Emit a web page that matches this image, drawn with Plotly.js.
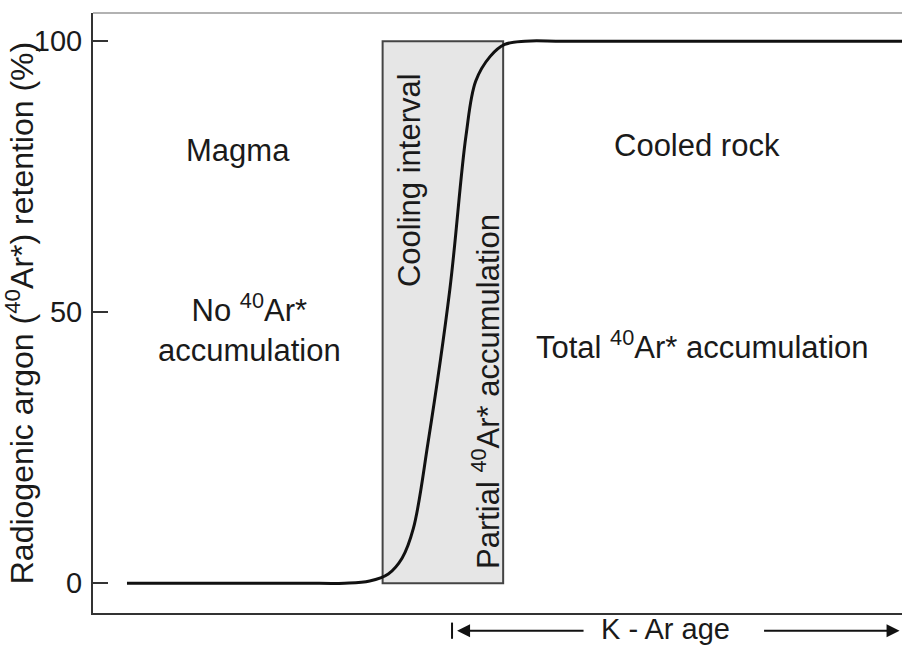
<!DOCTYPE html>
<html>
<head>
<meta charset="utf-8">
<script src="https://cdn.plot.ly/plotly-3.0.1.min.js"></script>
<style>html,body{margin:0;padding:0;background:#fff;}#chart{width:902px;height:645px;}</style>
</head>
<body>
<div id="chart"></div>
<script>
// Time / K-Ar age axis (arbitrary units) and 40Ar* retention (%)
const ageX = [4.2, 16, 26, 31.1, 34.2, 36.5, 38.2, 39.6, 41.4, 44.1, 46.1, 47.3, 49.1, 50.9, 53.4, 58, 70, 85, 100];
const retention = [0, 0, 0, 0, 0.4, 1.7, 4.6, 10.1, 25.8, 54.1, 82.5, 92.6, 97.2, 99.4, 100, 100, 100, 100, 100];
// Cooling interval (x start/end) and its retention span
const coolingInterval = [35.8, 50.7];
const coolingRetention = [0, 100];
const yTickVals = [0, 50, 100];
const yTickText = ['0', '50', '100'];

const fontFam = 'Liberation Sans, Arial, sans-serif';
const txtCol = '#1a1a1a';
const F = 31;

const traces = [{
  x: ageX, y: retention, type: 'scatter', mode: 'lines',
  line: {color: '#111', width: 3, shape: 'spline', smoothing: 1},
  hoverinfo: 'skip', showlegend: false
}];

function ann(text, x, y, opts) {
  return Object.assign({text: text, x: x, y: y, xref: 'x', yref: 'y', showarrow: false,
    font: {family: fontFam, size: F, color: txtCol}, xanchor: 'center', yanchor: 'middle'}, opts || {});
}

const layout = {
  width: 902, height: 645,
  margin: {l: 93, r: 0, t: 13, b: 32},
  paper_bgcolor: '#fff', plot_bgcolor: '#fff',
  showlegend: false,
  xaxis: {range: [0, 100], showgrid: false, zeroline: false, showticklabels: false, ticks: '',
    showline: true, linecolor: '#333', linewidth: 2, mirror: false},
  yaxis: {range: [-5.5, 105.2], showgrid: false, zeroline: false,
    tickvals: yTickVals, ticktext: yTickText, ticks: 'inside', ticklen: 15, tickwidth: 1.5, tickcolor: '#333',
    tickfont: {family: fontFam, size: 29, color: txtCol}, ticklabelstandoff: 3,
    showline: true, linecolor: '#333', linewidth: 2,
    title: {text: 'Radiogenic argon (<sup>40</sup>Ar*) retention (%)', font: {family: fontFam, size: 32, color: txtCol}, standoff: 0}
  },
  shapes: [
    {type: 'rect', xref: 'x', yref: 'y', x0: coolingInterval[0], x1: coolingInterval[1], y0: coolingRetention[0], y1: coolingRetention[1],
     fillcolor: '#e6e6e6', line: {color: '#444', width: 2}, layer: 'below'},
    {type: 'line', xref: 'paper', yref: 'paper', x0: 0, x1: 1, y0: 1, y1: 1, line: {color: '#999', width: 1.5}},
    {type: 'line', xref: 'paper', yref: 'paper', x0: 0.4438, x1: 0.4438, y0: -0.016, y1: -0.043, line: {color: '#111', width: 2}}
  ],
  annotations: [
    ann('Magma', 17.9, 79.9),
    ann('No <sup>40</sup>Ar*<br>accumulation', 19.3, 47.0),
    ann('Cooled rock', 74.7, 80.8),
    ann('Total <sup>40</sup>Ar* accumulation', 75.4, 43.9),
    ann('Cooling interval', 39.2, 74.4, {textangle: -90}),
    ann('Partial <sup>40</sup>Ar* accumulation', 48.6, 35.3, {textangle: -90}),
    {text: 'K - Ar age', xref: 'paper', yref: 'paper', x: 0.708, y: -0.027, showarrow: false,
     font: {family: fontFam, size: 29, color: txtCol}, xanchor: 'center', yanchor: 'middle'},
    {text: '', xref: 'paper', yref: 'paper', x: 0.450, y: -0.0295, showarrow: true, ax: 128, ay: 0,
     arrowhead: 2, arrowsize: 1.3, arrowwidth: 2, arrowcolor: '#111'},
    {text: '', xref: 'paper', yref: 'paper', x: 0.997, y: -0.0295, showarrow: true, ax: -137, ay: 0,
     arrowhead: 2, arrowsize: 1.3, arrowwidth: 2, arrowcolor: '#111'}
  ]
};

Plotly.newPlot('chart', traces, layout, {staticPlot: true, displayModeBar: false});
</script>
</body>
</html>
